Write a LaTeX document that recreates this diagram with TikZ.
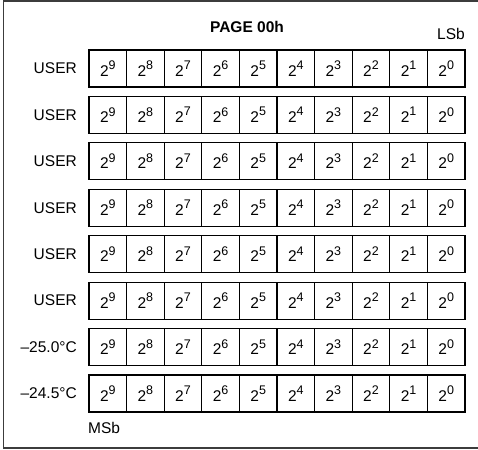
\documentclass[tikz,border=0pt]{standalone}
\usepackage{fontspec}
\setmainfont{Liberation Sans}
\usepackage{tikz}
\usetikzlibrary{positioning}
\definecolor{Ink}{HTML}{000000}
\definecolor{Frame}{HTML}{3C3C3C}

\newcommand{\bitpow}[1]{2\raisebox{0.42em}{\fontsize{12.5pt}{14pt}\selectfont #1}}

\tikzset{
  bitcell/.style={draw=Ink,line width=1.2pt,minimum width=37.6pt,minimum height=37pt,
    inner sep=0pt,font=\fontsize{15.5pt}{18pt}\selectfont},
  rowlab/.style={anchor=east,inner sep=0pt,font=\fontsize{15.5pt}{18pt}\selectfont},
}

\begin{document}
\begin{tikzpicture}[x=1pt,y=-1pt]
  \useasboundingbox (0,0) rectangle (478,449);
  \draw[Frame,line width=1.5pt] (479,1) -- (3.6,1) -- (3.6,448) -- (479,448);
  \foreach \r/\lab in {0/USER,1/USER,2/USER,3/USER,4/USER,5/USER,
                       6/{--25.0\textdegree C},7/{--24.5\textdegree C}} {
    \node[rowlab] (lab\r) at (77,{68.5+46.43*\r}) {\lab};
    \foreach \c in {0,...,9} {
      \pgfmathtruncatemacro{\e}{9-\c}
      \node[bitcell] (c\r\c) at ({107.8+37.6*\c},{68.5+46.43*\r}) {\bitpow{\e}};
    }
  }
  \node[font=\bfseries\fontsize{15.5pt}{18pt}\selectfont] (title) at (247,27) {PAGE 00h};
  \node[font=\fontsize{15.5pt}{18pt}\selectfont,anchor=east,inner sep=0pt] (lsb) at (465,34) {LSb};
  \node[font=\fontsize{15.5pt}{18pt}\selectfont,anchor=west,inner sep=0pt] (msb) at (88,428) {MSb};
\end{tikzpicture}
\end{document}
